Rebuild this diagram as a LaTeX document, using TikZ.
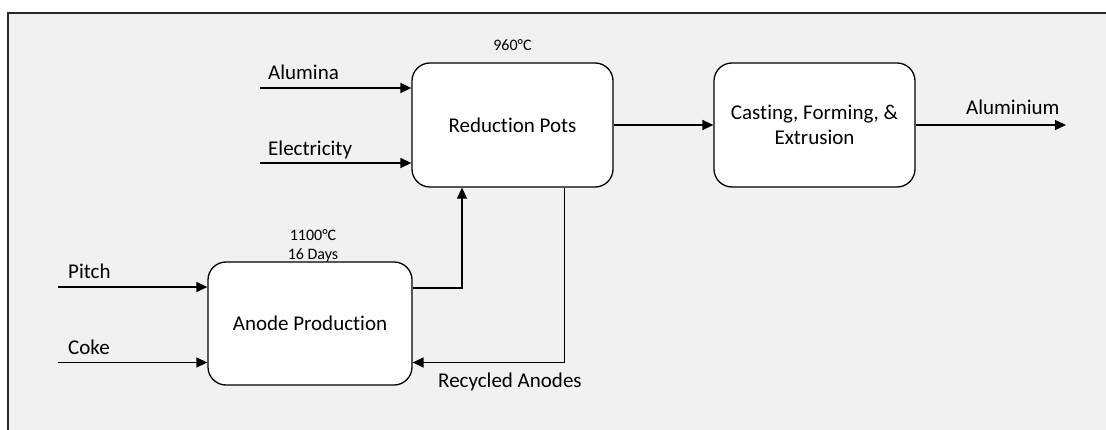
\documentclass[tikz,border=0pt]{standalone}
\usepackage{fontspec}
\setmainfont{Carlito}[Ligatures=NoCommon]
\usetikzlibrary{arrows.meta}
\definecolor{bgpanel}{RGB}{241,241,241}
\definecolor{framecol}{RGB}{40,40,40}
\tikzset{
  procbox/.style={draw=black, fill=white, rounded corners=18pt, line width=1.3pt,
    inner sep=0pt, align=center, font=\fontsize{21}{25}\selectfont},
  arr/.style={-{Triangle[length=11pt,width=10pt]}, line width=1.4pt, black},
  lbl/.style={inner sep=0pt, font=\fontsize{21}{25}\selectfont},
  small/.style={inner sep=0pt, font=\fontsize{16}{19}\selectfont}
}
\begin{document}
\begin{tikzpicture}[x=1pt,y=-1pt]
\useasboundingbox (0,0) rectangle (1106,430);
\fill[white] (0,0) rectangle (1106,430);
\fill[bgpanel] (8,13) rectangle (1106,430);
\draw[line width=2pt, framecol] (8,430) -- (8,13) -- (1106,13);

% process boxes
\node[procbox, minimum width=201pt, minimum height=124pt] (rp) at (512.5,125) {Reduction Pots};
\node[procbox, minimum width=201pt, minimum height=124pt] (cf) at (814.5,125) {Casting, Forming, \&\\Extrusion};
\node[procbox, minimum width=204pt, minimum height=123pt] (ap) at (310,323.5) {Anode Production};

% annotations
\node[small, anchor=base] (t960) at (512.5,51) {960°C};
\node[small, anchor=base] (t1100) at (313,240.5) {1100°C};
\node[small, anchor=base] (tdays) at (313,260) {16 Days};

% free ends
\coordinate (alS) at (260,88);
\coordinate (elS) at (260,163);
\coordinate (piS) at (58,287);
\coordinate (coS) at (58,362.5);
\coordinate (alOut) at (1066,126);

% input labels
\node[lbl, anchor=base west] (lAl) at (268,80) {Alumina};
\node[lbl, anchor=base west] (lEl) at (268,155.5) {Electricity};
\node[lbl, anchor=base west] (lPi) at (68,279) {Pitch};
\node[lbl, anchor=base west] (lCo) at (68,355) {Coke};
\node[lbl, anchor=base west] (lAu) at (966,115) {Aluminium};
\node[lbl, anchor=base west] (lRe) at (438,387) {Recycled Anodes};

% connectors
\draw[arr] (alS) -- (alS -| rp.west);
\draw[arr] (elS) -- (elS -| rp.west);
\draw[arr] (piS) -- (piS -| ap.west);
\draw[arr] (coS) -- (coS -| ap.west);
\draw[arr] (rp.east) -- (cf.west);
\draw[arr] (cf.east) -- (cf.east -| alOut);
\draw[arr] ([yshift=35.5pt]ap.east) -| ([xshift=-50.5pt]rp.south);
\draw[arr] ([xshift=52pt]rp.south) |- ([yshift=-39pt]ap.east);
\end{tikzpicture}
\end{document}
